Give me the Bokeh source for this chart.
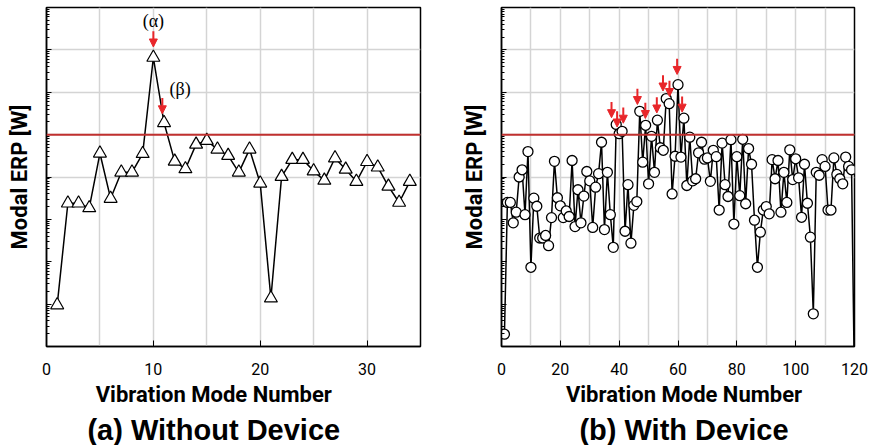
from bokeh.plotting import figure
from bokeh.layouts import row, column
from bokeh.models import (Range1d, Span, Arrow, NormalHead, ColumnDataSource, FixedTicker,
                          Label, CustomJSTickFormatter, SingleIntervalTicker)
from bokeh.embed import file_html
from bokeh.resources import INLINE

# ---------------- data ----------------
modes_a = list(range(1, 35))
erp_a = [9.5e-5, 0.024, 0.024, 0.0186, 0.363, 0.031, 0.129, 0.129, 0.355, 66.0,
         1.9, 0.234, 0.155, 0.59, 0.72, 0.45, 0.32, 0.129, 0.45, 0.071,
         1.38e-4, 0.102, 0.257, 0.257, 0.138, 0.083, 0.28, 0.151, 0.078, 0.229,
         0.17, 0.060, 0.025, 0.078]

modes_b = list(range(1, 121))
erp_b = [1.95e-5, 0.0251, 0.0251, 0.0083, 0.0148, 0.100, 0.148, 0.0129, 0.398, 7.4e-4,
         0.0316, 0.0204, 0.00363, 0.00363, 0.00417, 0.0024, 0.011, 0.234, 0.0324, 0.0209,
         0.011, 0.0158, 0.0117, 0.245, 0.00676, 0.050, 0.0083, 0.0355, 0.135, 0.081,
         0.00646, 0.0575, 0.12, 0.66, 0.00575, 0.129, 0.0129, 0.00219, 1.74, 1.05,
         1.20, 0.00525, 0.066, 0.00275, 0.0214, 0.0263, 3.55, 0.224, 1.66, 0.069,
         0.91, 0.129, 2.19, 0.49, 0.427, 7.08, 5.37, 0.0398, 0.309, 15.1,
         0.295, 2.45, 0.063, 0.87, 0.081, 0.091, 0.372, 0.66, 0.263, 0.282,
         0.079, 0.427, 0.302, 0.0166, 0.63, 0.066, 0.0347, 0.76, 0.00776, 0.302,
         0.0363, 0.776, 0.0234, 0.468, 0.20, 0.00955, 7.4e-4, 0.005, 0.0166, 0.020,
         0.0135, 0.257, 0.091, 0.245, 0.0148, 0.129, 0.0251, 0.437, 0.087, 0.269,
         0.0955, 0.0112, 0.20, 0.024, 0.0038, 5.9e-5, 0.129, 0.11, 0.257, 0.178,
         0.0166, 0.0166, 0.282, 0.115, 0.091, 0.069, 0.295, 0.178, 0.148, 1e-6]

threshold = 1.0

arrows_a_x = [10.0, 10.84]
arrows_a_tip = [117.0, 3.1]
labels_a = ["(α)", "(β)"]
labels_a_x = [10.0, 12.5]
labels_a_y = [479.0, 11.7]

arrows_b_x = [37.4, 39.3, 41.4, 46.2, 48.9, 52.8, 54.9, 57.1, 59.7, 61.4]
arrows_b_tip = [2.51, 1.51, 1.86, 5.13, 2.40, 3.24, 10.7, 7.94, 26.3, 3.39]

xticks_a = [0, 10, 20, 30]
xticks_b = [0, 20, 40, 60, 80, 100, 120]
xlabel = "Vibration Mode Number"
ylabel = "Modal ERP [W]"
title_a = "(a) Without Device"
title_b = "(b) With Device"

# ---------------- style ----------------
RED_LINE = "#c0302f"
RED_ARROW = "#e8262a"
GRID = "#d4d4d4"
ARROW_LEN = 10 ** 0.37
LABEL_FONT = "Roboto"
TOP_H = 381          # height of the plotting row
CAP_H = 445 - TOP_H  # height of the caption row

decades = [10.0 ** k for k in range(-5, 4)]
minors = [m * 10.0 ** k for k in range(-5, 3) for m in range(2, 10)]


def make_fig(width, xmax, xticks, grid_step, bl, br, mx, my, sx, arr_x, arr_tip):
    p = figure(width=width, height=TOP_H, output_backend="svg", toolbar_location=None,
               title=None, y_axis_type="log",
               x_range=Range1d(0, xmax), y_range=Range1d(1e-5, 1e3),
               min_border_left=bl, min_border_right=br, min_border_top=7,
               min_border_bottom=TOP_H - 346)
    p.background_fill_color = "white"
    p.border_fill_color = "white"
    p.outline_line_color = "black"
    p.outline_line_width = 1.5

    p.xgrid.ticker = SingleIntervalTicker(interval=grid_step)
    p.ygrid.ticker = FixedTicker(ticks=[0.1, 1.0, 10.0, 100.0])
    p.grid.grid_line_color = GRID
    p.grid.grid_line_width = 1.5

    p.xaxis.ticker = FixedTicker(ticks=xticks)
    p.xaxis.major_tick_in = 6
    p.xaxis.major_tick_out = 0
    p.xaxis.minor_tick_line_color = None
    p.xaxis.major_label_text_font = "Roboto"
    p.xaxis.major_label_text_font_size = "16px"
    p.xaxis.major_label_text_color = "black"
    p.xaxis.major_label_standoff = 16
    p.xaxis.axis_line_width = 1.5

    p.yaxis.ticker = FixedTicker(ticks=decades, minor_ticks=minors)
    p.yaxis.formatter = CustomJSTickFormatter(code="return ''")
    p.yaxis.major_tick_in = 5
    p.yaxis.major_tick_out = 0
    p.yaxis.minor_tick_in = 3
    p.yaxis.minor_tick_out = 0
    p.yaxis.major_label_standoff = 0
    p.yaxis.axis_line_width = 1.5
    p.yaxis.axis_label = ylabel
    p.yaxis.axis_label_text_font = LABEL_FONT
    p.yaxis.axis_label_text_font_style = "bold"
    p.yaxis.axis_label_text_font_size = "22px"
    p.yaxis.axis_label_text_color = "black"
    p.yaxis.axis_label_standoff = 15

    p.add_layout(Span(location=threshold, dimension="width", line_color=RED_LINE,
                      line_width=2))

    src = ColumnDataSource(dict(x=mx, y=my))
    p.line("x", "y", source=src, line_color="black", line_width=1.5)
    if sx == "triangle":
        p.scatter("x", "y", source=src, marker="triangle", size=13,
                  fill_color="white", line_color="black", line_width=1.2)
    else:
        p.scatter("x", "y", source=src, marker="circle", size=10,
                  fill_color="white", line_color="black", line_width=1.3)

    asrc = ColumnDataSource(dict(x=arr_x, y1=arr_tip,
                                 y0=[t * ARROW_LEN for t in arr_tip]))
    p.add_layout(Arrow(source=asrc, x_start="x", y_start="y0", x_end="x", y_end="y1",
                       line_color=RED_ARROW, line_width=2,
                       end=NormalHead(size=8, fill_color=RED_ARROW,
                                      line_color=RED_ARROW)))
    return p


def make_caption(width, cx, title_text):
    c = figure(width=width, height=CAP_H, output_backend="svg", toolbar_location=None,
               title=None, x_range=Range1d(0, width), y_range=Range1d(0, CAP_H),
               min_border=0, x_axis_type=None, y_axis_type=None)
    c.grid.visible = False
    c.outline_line_color = None
    c.background_fill_color = "white"
    c.border_fill_color = "white"
    c.add_layout(Label(x=cx, y=CAP_H - 13, text=xlabel, text_align="center",
                       text_baseline="alphabetic", text_font=LABEL_FONT,
                       text_font_style="bold", text_font_size="22px",
                       text_color="black"))
    c.add_layout(Label(x=cx, y=CAP_H - 48.5, text=title_text, text_align="center",
                       text_baseline="alphabetic", text_font="Liberation Sans",
                       text_font_style="bold", text_font_size="29px",
                       text_color="black"))
    return c


p1 = make_fig(458, 35, xticks_a, 5, 46, 38, modes_a, erp_a, "triangle",
              arrows_a_x, arrows_a_tip)
for t, lx, ly in zip(labels_a, labels_a_x, labels_a_y):
    p1.add_layout(Label(x=lx, y=ly, text=t, text_align="center", text_baseline="middle",
                        text_font="Liberation Serif", text_font_size="18px",
                        text_color="black"))

p2 = make_fig(413, 120, xticks_b, 10, 42, 17, modes_b, erp_b, "circle",
              arrows_b_x, arrows_b_tip)

c1 = make_caption(458, 213.3, title_a)
c2 = make_caption(413, 225.5, title_b)

layout = column(row(p1, p2), row(c1, c2))
open("out.html", "w").write(file_html(layout, INLINE))
